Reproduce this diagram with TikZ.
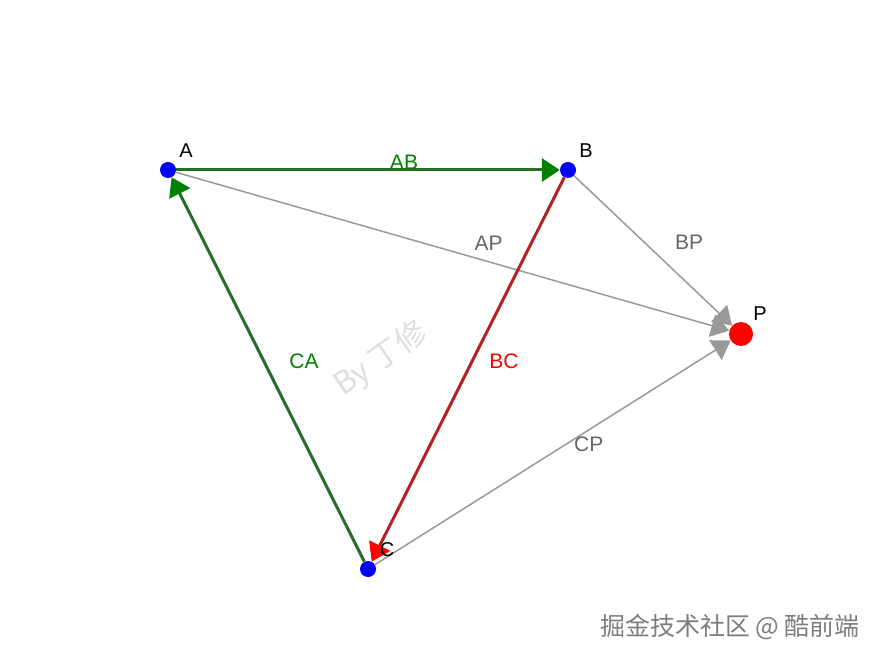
\documentclass[tikz,border=0pt]{standalone}
\usepackage{fontspec}
\setmainfont{Liberation Sans}
\newfontfamily\cjk{Noto Sans CJK SC}
\usepackage{xcolor}
\usepackage{tikz}
\usetikzlibrary{arrows.meta}
\definecolor{edgegreen}{RGB}{38,110,38}
\definecolor{headgreen}{RGB}{0,128,0}
\definecolor{edgered}{RGB}{178,34,34}
\definecolor{edgegray}{RGB}{153,153,153}
\definecolor{textgray}{RGB}{102,102,102}
\definecolor{markgray}{RGB}{222,222,222}
\definecolor{sitegray}{RGB}{125,125,125}
\tikzstyle{vertex} = [circle,fill=blue,inner sep=0pt,minimum size=16pt]
\tikzstyle{target} = [circle,fill=red,inner sep=0pt,minimum size=24pt]
\tikzstyle{greenarrow} = [edgegreen,line width=3pt,-{Triangle[length=18pt,width=23pt,color=headgreen]}]
\tikzstyle{redarrow} = [edgered,line width=3pt,-{Triangle[length=18pt,width=23pt,color=red]}]
\tikzstyle{grayarrow} = [edgegray,line width=1.5pt,-{Triangle[length=18pt,width=23pt]}]
\tikzstyle{edgelabel} = [inner sep=0pt,font=\fontsize{21}{24}\selectfont,xshift=36pt,yshift=8pt]
\tikzstyle{ptlabel} = [inner sep=0pt,font=\fontsize{20}{24}\selectfont]

\begin{document}
\begin{tikzpicture}[x=1pt,y=-1pt]
				\useasboundingbox (0,0) rectangle (880,660);

				% Watermark in the middle:
				\node [markgray,rotate=35,font=\cjk\fontsize{31}{36}\selectfont] (mark) at (381,359) {By 丁修};

				% Points:
				\node [vertex] (A) at (168,170) {};
				\node [vertex] (B) at (568,170) {};
				\node [vertex] (C) at (368,569) {};
				\node [target] (P) at (741,334) {};

				% Lines to P:
				\draw [grayarrow] (A) -- (P) node [edgelabel,textgray,pos=.5] (lAP) {AP};
				\draw [grayarrow] (B) -- (P) node [edgelabel,textgray,pos=.5] (lBP) {BP};
				\draw [grayarrow] (C) -- (P) node [edgelabel,textgray,pos=.5] (lCP) {CP};

				% The triangle:
				\draw [greenarrow] (A) -- (B) node [edgelabel,headgreen,pos=.5] (lAB) {AB};
				\draw [redarrow] (B) -- (C) node [edgelabel,red,pos=.5] (lBC) {BC};
				\draw [greenarrow] (C) -- (A) node [edgelabel,headgreen,pos=.5] (lCA) {CA};

				% Names of the points (on top of the arrows):
				\node [ptlabel] (lA) at (186,151) {A};
				\node [ptlabel] (lB) at (586,151) {B};
				\node [ptlabel] (lC) at (387,550) {C};
				\node [ptlabel] (lP) at (760,314) {P};

				% Site name at the bottom:
				\node [sitegray,font=\cjk\fontsize{25}{30}\selectfont] (site) at (730,627) {掘金技术社区 @ 酷前端};
\end{tikzpicture}
\end{document}
